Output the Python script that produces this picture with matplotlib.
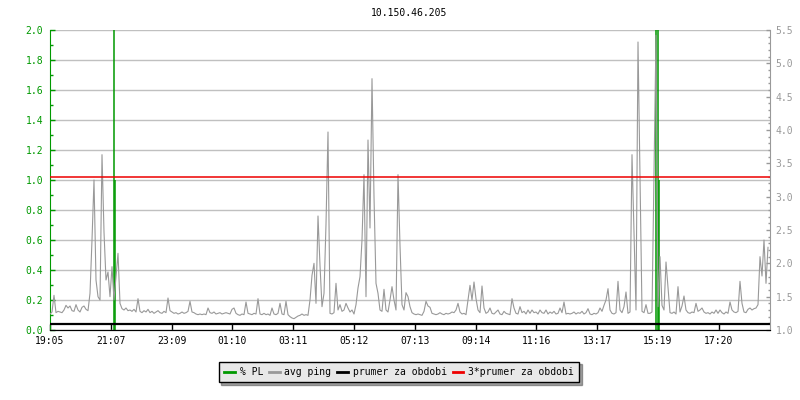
import matplotlib
matplotlib.use("Agg")
import matplotlib.pyplot as plt
from matplotlib.lines import Line2D
import numpy as np

# avg ping [ms], one sample every 4 minutes starting at 19:05
ping = [
    1.24, 1.27, 1.52, 1.26, 1.28, 1.27, 1.26, 1.30, 1.37, 1.33, 1.36, 1.29, 1.28, 1.38, 1.30, 1.27, 1.34, 1.36, 1.31, 1.29,
    1.55, 2.35, 3.25, 1.75, 1.50, 1.45, 3.63, 2.47, 1.75, 1.87, 1.50, 1.95, 1.45, 1.80, 2.15, 1.40, 1.32, 1.30, 1.33, 1.29,
    1.30, 1.28, 1.31, 1.27, 1.47, 1.28, 1.26, 1.29, 1.27, 1.31, 1.26, 1.28, 1.25, 1.27, 1.29, 1.26, 1.25, 1.28, 1.26, 1.48,
    1.29, 1.27, 1.25, 1.26, 1.24, 1.25, 1.27, 1.25, 1.26, 1.28, 1.43, 1.27, 1.26, 1.24, 1.23, 1.24, 1.23, 1.24, 1.23, 1.33,
    1.26, 1.25, 1.27, 1.24, 1.25, 1.26, 1.24, 1.25, 1.26, 1.25, 1.24, 1.31, 1.33, 1.25, 1.23, 1.22, 1.24, 1.23, 1.42, 1.25,
    1.24, 1.23, 1.25, 1.24, 1.47, 1.24, 1.23, 1.25, 1.23, 1.24, 1.22, 1.33, 1.24, 1.23, 1.25, 1.40, 1.24, 1.23, 1.43, 1.23,
    1.20, 1.18, 1.17, 1.19, 1.21, 1.22, 1.24, 1.22, 1.23, 1.22, 1.45, 1.82, 2.00, 1.40, 2.71, 1.97, 1.35, 1.55, 2.59, 3.97,
    1.25, 1.24, 1.26, 1.70, 1.30, 1.38, 1.28, 1.30, 1.40, 1.33, 1.27, 1.30, 1.24, 1.38, 1.63, 1.80, 2.35, 3.33, 1.50, 3.85,
    2.53, 4.77, 3.00, 1.70, 1.55, 1.30, 1.28, 1.61, 1.30, 1.27, 1.45, 1.65, 1.45, 1.30, 3.33, 2.27, 1.38, 1.30, 1.56, 1.50,
    1.35, 1.26, 1.24, 1.23, 1.24, 1.23, 1.22, 1.28, 1.43, 1.36, 1.34, 1.25, 1.24, 1.23, 1.24, 1.26, 1.24, 1.23, 1.25, 1.24,
    1.25, 1.27, 1.26, 1.30, 1.40, 1.27, 1.24, 1.25, 1.23, 1.45, 1.67, 1.45, 1.72, 1.47, 1.30, 1.26, 1.66, 1.33, 1.25, 1.27,
    1.33, 1.25, 1.24, 1.27, 1.30, 1.24, 1.23, 1.28, 1.25, 1.24, 1.23, 1.47, 1.33, 1.25, 1.24, 1.35, 1.26, 1.28, 1.24, 1.30,
    1.25, 1.30, 1.26, 1.27, 1.24, 1.30, 1.26, 1.25, 1.30, 1.24, 1.27, 1.25, 1.28, 1.24, 1.25, 1.33, 1.26, 1.42, 1.24, 1.25,
    1.24, 1.25, 1.27, 1.24, 1.26, 1.25, 1.28, 1.24, 1.26, 1.32, 1.24, 1.23, 1.25, 1.24, 1.26, 1.33, 1.28, 1.37, 1.45, 1.62,
    1.30, 1.25, 1.24, 1.26, 1.73, 1.30, 1.26, 1.35, 1.57, 1.25, 1.27, 3.63, 2.44, 1.30, 5.32, 3.28, 1.28, 1.26, 1.38, 1.25,
    1.25, 1.27, 3.33, 5.42, 1.35, 2.10, 1.37, 1.30, 2.02, 1.63, 1.26, 1.25, 1.27, 1.24, 1.65, 1.27, 1.36, 1.51, 1.30, 1.26,
    1.25, 1.27, 1.26, 1.40, 1.28, 1.30, 1.33, 1.27, 1.25, 1.26, 1.24, 1.27, 1.25, 1.30, 1.25, 1.30, 1.26, 1.24, 1.27, 1.25,
    1.42, 1.30, 1.27, 1.26, 1.28, 1.73, 1.40, 1.27, 1.26, 1.31, 1.33, 1.30, 1.32, 1.33, 1.38, 2.10, 1.81, 2.35, 1.70, 2.24,
]
sample_step = 4  # minutes

# packet loss [%], only the samples where it was not zero
pl_minutes = [128.6, 130.6, 1212.0, 1216.6, 1218.4]
pl_values = [5.0, 1.0, 5.0, 5.0, 1.0]

# period average of the ping and three times that
prumer = 1.097
prumer3 = 3 * prumer

tick_labels = ["19:05", "21:07", "23:09", "01:10", "03:11", "05:12",
               "07:13", "09:14", "11:16", "13:17", "15:19", "17:20"]
tick_step = 121.6  # minutes between labelled ticks

GREEN = "#009900"
GRAY = "#999999"
plt.rcParams["font.family"] = "DejaVu Sans Mono"
plt.rcParams["font.size"] = 7

minutes = np.arange(len(ping)) * sample_step

fig = plt.figure(figsize=(8, 4), dpi=100)
ax = fig.add_axes([50 / 800, 70 / 400, 720 / 800, 300 / 400])
ax2 = ax.twinx()

# % PL on the left axis
ax.vlines(pl_minutes, 0, pl_values, color=GREEN, linewidth=1.1, label="% PL")
ax.set_ylim(0, 2.0)
ax.set_xlim(0, 1440)
ax.set_yticks(np.arange(0, 2.01, 0.2))
ax.set_yticks(np.arange(0, 2.01, 0.1), minor=True)
ax.set_yticklabels(["%.1f" % v for v in np.arange(0, 2.01, 0.2)])
ax.grid(axis="y", color="#c0c0c0", linewidth=1.0)
ax.set_axisbelow(True)
ax.tick_params(axis="y", which="both", direction="in", colors=GREEN, pad=5)
ax.tick_params(axis="y", which="major", length=3.6, width=1)
ax.tick_params(axis="y", which="minor", length=2.4, width=1)
ax.set_xticks([k * tick_step for k in range(len(tick_labels))])
ax.set_xticklabels(tick_labels)
ax.tick_params(axis="x", direction="in", length=4.3, width=1, colors="black", pad=4)

# avg ping and averages on the right axis
ax2.plot(minutes, ping, color=GRAY, linewidth=0.8, label="avg ping")
ax2.axhline(prumer, color="black", linewidth=1.6, label="prumer za obdobi")
ax2.axhline(prumer3, color="#ee0000", linewidth=1.1, label="3*prumer za obdobi")
ax2.set_ylim(1.0, 5.5)
ax2.set_yticks(np.arange(1.0, 5.51, 0.5))
ax2.set_yticks(np.arange(1.0, 5.51, 0.1), minor=True)
ax2.set_yticklabels(["%.1f" % v for v in np.arange(1.0, 5.51, 0.5)])
ax2.tick_params(axis="y", which="both", direction="in", colors=GRAY, pad=4)
ax2.tick_params(axis="y", which="major", length=3.0, width=1)
ax2.tick_params(axis="y", which="minor", length=1.7, width=1)

for a in (ax, ax2):
    a.spines["top"].set_visible(False)
ax.spines["left"].set_color(GREEN)
ax2.spines["left"].set_visible(False)
ax.spines["right"].set_visible(False)
ax2.spines["right"].set_color(GRAY)
ax2.spines["bottom"].set_color("black")

fig.text(409 / 800, 1 - 13 / 400, "10.150.46.205", ha="center", va="center", fontsize=7)

h1, l1 = ax.get_legend_handles_labels()
h2, l2 = ax2.get_legend_handles_labels()
handles = [Line2D([], [], color=GREEN, linewidth=2)] + \
          [Line2D([], [], color=h.get_color(), linewidth=2) for h in h2]
leg = fig.legend(handles, l1 + l2, loc="center", bbox_to_anchor=(399 / 800, 1 - 372 / 400),
                 ncol=4, frameon=True, fancybox=False, shadow=True,
                 handlelength=1.1, handletextpad=0.5, columnspacing=0.6,
                 borderpad=0.55, fontsize=7)
leg.get_frame().set_facecolor("#e8e8e8")
leg.get_frame().set_edgecolor("black")
leg.get_frame().set_linewidth(1.0)

plt.savefig("out.png", dpi=100)
